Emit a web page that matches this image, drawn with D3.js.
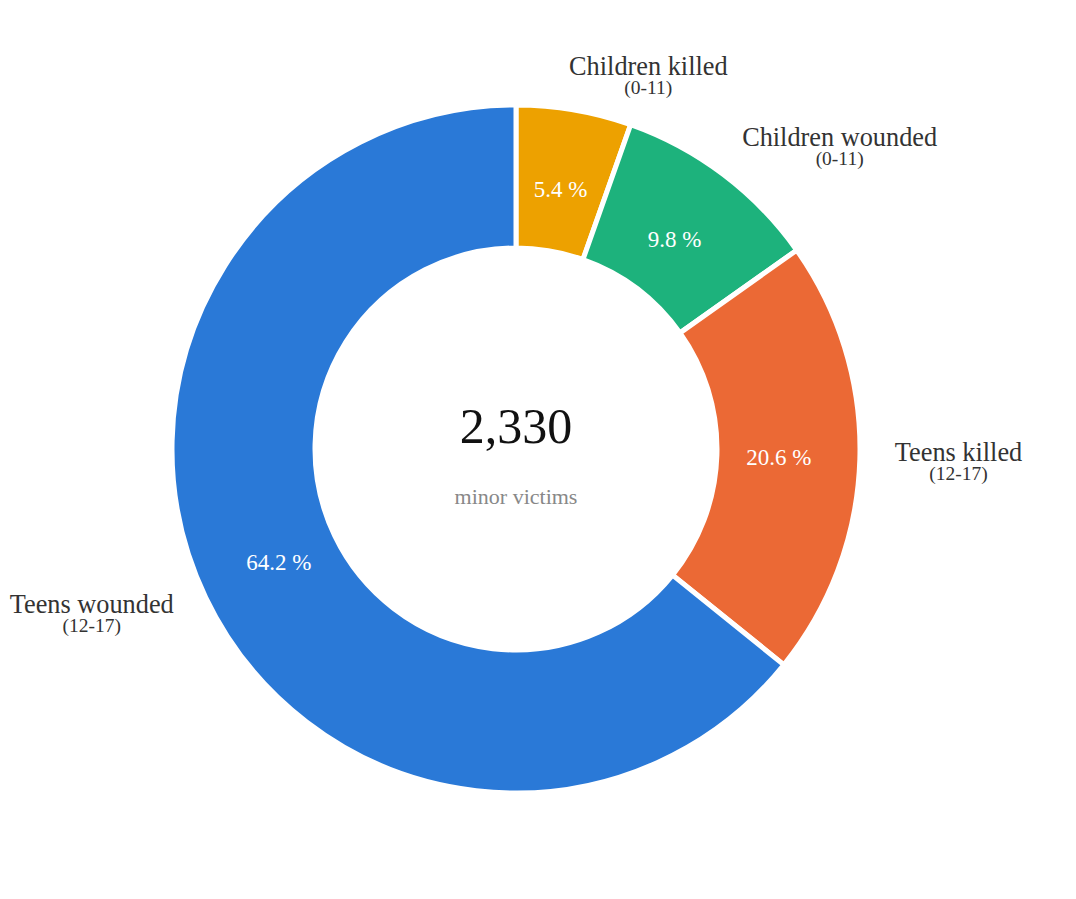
<!DOCTYPE html>
<html>
<head>
<meta charset="utf-8">
<script src="https://cdn.jsdelivr.net/npm/d3@7"></script>
<style>
  html, body { margin: 0; padding: 0; background: #fff; }
  svg { display: block; }
  text { font-family: "Liberation Serif", "Times New Roman", serif; }
</style>
</head>
<body>
<svg id="chart" width="1076" height="899"></svg>
<script>
const categories = ["Children killed", "Children wounded", "Teens killed", "Teens wounded"];
const ageGroups = ["(0-11)", "(0-11)", "(12-17)", "(12-17)"];
const values = [126, 228, 480, 1496];
const percentLabels = ["5.4 %", "9.8 %", "20.6 %", "64.2 %"];
const colors = ["#eda100", "#1db27c", "#eb6935", "#2a79d7"];
const totalLabel = "2,330";
const subtitle = "minor victims";

const width = 1076, height = 899;
const cx = 516, cy = 449;
const outerR = 344, innerR = 201;

const svg = d3.select("#chart");
const g = svg.append("g").attr("transform", `translate(${cx},${cy})`);

const data = categories.map((c, i) => ({ name: c, age: ageGroups[i], value: values[i], pct: percentLabels[i], color: colors[i] }));

const pie = d3.pie().value(d => d.value).sort(null);
const arcs = pie(data);

const arc = d3.arc().innerRadius(innerR).outerRadius(outerR);
const pctArc = d3.arc().innerRadius(263).outerRadius(263);
const lblArc = d3.arc().innerRadius(385).outerRadius(385);

g.selectAll("path.slice")
  .data(arcs)
  .join("path")
  .attr("class", "slice")
  .attr("d", arc)
  .attr("fill", d => d.data.color)
  .attr("stroke", "#fff")
  .attr("stroke-width", 5)
  .attr("stroke-linejoin", "miter");

g.selectAll("text.pct")
  .data(arcs)
  .join("text")
  .attr("class", "pct")
  .attr("transform", d => `translate(${pctArc.centroid(d)})`)
  .attr("text-anchor", "middle")
  .attr("dy", "0.32em")
  .attr("fill", "#fff")
  .attr("font-size", 23)
  .text(d => d.data.pct);

const labels = g.selectAll("g.lbl")
  .data(arcs)
  .join("g")
  .attr("class", "lbl");

labels.each(function(d) {
  const [px, py] = lblArc.centroid(d);
  const sel = d3.select(this);
  const main = sel.append("text")
    .attr("font-size", 26.3)
    .attr("fill", "#333")
    .text(d.data.name);
  const w = main.node().getComputedTextLength();
  const right = px >= 0;
  const x0 = right ? px - 6 - (px < 100 ? 6 : 0) : px + 5 - w;
  const by = py * 0.985;
  main.attr("x", x0).attr("y", by);
  sel.append("text")
    .attr("font-size", 19.5)
    .attr("fill", "#333")
    .attr("text-anchor", "middle")
    .attr("x", x0 + w / 2)
    .attr("y", by + 19)
    .text(d.data.age);
});

g.append("text")
  .attr("text-anchor", "middle")
  .attr("y", -6)
  .attr("font-size", 50)
  .attr("fill", "#111")
  .text(totalLabel);

g.append("text")
  .attr("text-anchor", "middle")
  .attr("y", 55)
  .attr("font-size", 22)
  .attr("fill", "#888")
  .text(subtitle);
</script>
</body>
</html>
